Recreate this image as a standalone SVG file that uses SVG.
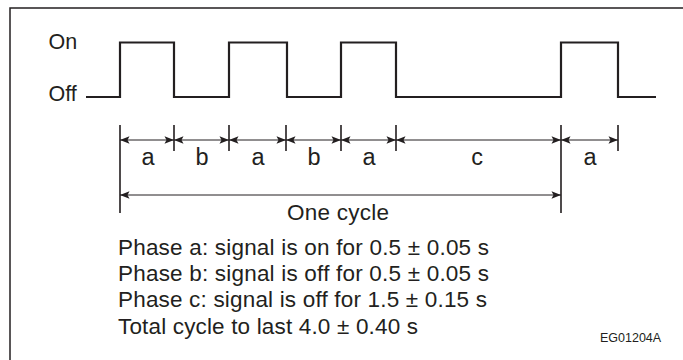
<svg xmlns="http://www.w3.org/2000/svg" width="683" height="360" viewBox="0 0 683 360">
<defs>
<style>
text{font-family:"Liberation Sans",Arial,Helvetica,sans-serif;fill:#231f20}
.lbl{font-size:21.5px}
.dl{font-size:23.5px;text-anchor:middle}
.ph{font-size:22.5px}
.sig{fill:none;stroke:#231f20;stroke-width:2.2;stroke-linejoin:miter}
.tick{stroke:#231f20;stroke-width:1.6;fill:none}
.dim{stroke:#231f20;stroke-width:1;fill:none;marker-start:url(#ah);marker-end:url(#ah)}
.frame{fill:none;stroke:#231f20;stroke-width:1.5}
</style>
<marker id="ah" markerUnits="userSpaceOnUse" markerWidth="12" markerHeight="10" refX="10" refY="5" orient="auto-start-reverse" viewBox="0 0 12 10">
<path d="M10,5 L0.5,1.2 L2.5,5 L0.5,8.8 Z" fill="#231f20"/>
</marker>
</defs>
<rect width="683" height="360" fill="#fff"/>
<path class="frame" d="M10,370 L10,8 L690,8"/>
<g id="labels">
<text class="lbl" x="48.5" y="49">On</text>
<text class="lbl" x="48.5" y="101">Off</text>
</g>
<g id="signal">
<path class="sig" d="M86,97 H120 V42.5 H174 V97 H229 V42.5 H287 V97 H341 V42.5 H396 V97 H561 V42.5 H618 V97 H656"/>
</g>
<g id="connectors">
<path class="tick" d="M120,125 V213 M174,125 V151 M229,125 V151 M286,125 V151 M341,125 V151 M396,125 V151 M561,125 V213 M618,125 V151"/>
<path class="dim" d="M120,140 H174"/>
<path class="dim" d="M174,140 H229"/>
<path class="dim" d="M229,140 H286"/>
<path class="dim" d="M286,140 H341"/>
<path class="dim" d="M341,140 H396"/>
<path class="dim" d="M396,140 H561"/>
<path class="dim" d="M561,140 H618"/>
<path class="dim" d="M120,195 H561"/>
</g>
<g id="dimlabels">
<text class="dl" x="148" y="165">a</text>
<text class="dl" x="202" y="165">b</text>
<text class="dl" x="258" y="165">a</text>
<text class="dl" x="314" y="165">b</text>
<text class="dl" x="369" y="165">a</text>
<text class="dl" x="477" y="165">c</text>
<text class="dl" x="590" y="165">a</text>
<text class="ph" x="287" y="220" textLength="102" lengthAdjust="spacing">One cycle</text>
</g>
<g id="notes">
<text class="ph" x="118" y="255" textLength="371" lengthAdjust="spacing">Phase a: signal is on for 0.5 ± 0.05 s</text>
<text class="ph" x="118" y="281" textLength="371" lengthAdjust="spacing">Phase b: signal is off for 0.5 ± 0.05 s</text>
<text class="ph" x="118" y="307" textLength="369" lengthAdjust="spacing">Phase c: signal is off for 1.5 ± 0.15 s</text>
<text class="ph" x="118" y="334" textLength="300" lengthAdjust="spacing">Total cycle to last 4.0 ± 0.40 s</text>
<text x="600" y="342" style="font-size:12.5px">EG01204A</text>
</g>
</svg>
